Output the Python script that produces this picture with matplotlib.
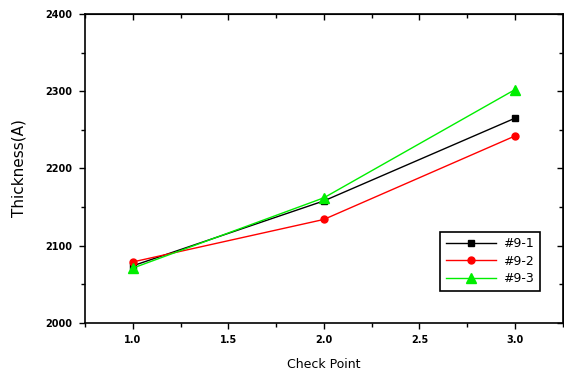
import matplotlib
matplotlib.use("Agg")
import matplotlib.pyplot as plt
from matplotlib.ticker import MultipleLocator

check_points = [1.0, 2.0, 3.0]
s91 = [2074, 2158, 2265]
s92 = [2079, 2134, 2242]
s93 = [2071, 2162, 2302]
labels = ["#9-1", "#9-2", "#9-3"]
xticks = [1.0, 1.5, 2.0, 2.5, 3.0]
xtick_labels = ["1.0", "1.5", "2.0", "2.5", "3.0"]
yticks = [2000, 2100, 2200, 2300, 2400]
ytick_labels = ["2000", "2100", "2200", "2300", "2400"]

fig = plt.figure(figsize=(5.64, 3.76), dpi=100)
ax = fig.add_axes([0.1507, 0.141, 0.847, 0.822])

ax.plot(check_points, s91, color="black", marker="s", ms=5, lw=1, label=labels[0])
ax.plot(check_points, s92, color="red", marker="o", ms=5, lw=1, label=labels[1])
ax.plot(check_points, s93, color="#00ee00", marker="^", ms=7, lw=1, label=labels[2])

ax.set_xlim(0.75, 3.25)
ax.set_ylim(2000, 2400)
ax.set_xticks(xticks, xtick_labels, fontweight="bold")
ax.set_yticks(yticks, ytick_labels, fontweight="bold")
ax.xaxis.set_minor_locator(MultipleLocator(0.25))
ax.yaxis.set_minor_locator(MultipleLocator(50))
ax.tick_params(which="major", direction="out", length=4, width=1, labelsize=7, pad=5)
ax.tick_params(which="minor", direction="out", length=3, width=1)
for sp in ax.spines.values():
    sp.set_linewidth(1.2)

top = ax.secondary_xaxis("top")
top.set_xticks(xticks)
top.xaxis.set_minor_locator(MultipleLocator(0.25))
top.tick_params(which="both", direction="in", labeltop=False, length=4, width=1)
top.tick_params(which="minor", length=3)
right = ax.secondary_yaxis("right")
right.set_yticks(yticks)
right.yaxis.set_minor_locator(MultipleLocator(50))
right.tick_params(which="both", direction="in", labelright=False, length=4, width=1)
right.tick_params(which="minor", length=3)

ax.set_xlabel("Check Point", fontsize=9, labelpad=9)
ax.set_ylabel("Thickness(A)", fontsize=11, labelpad=14)

leg = ax.legend(loc="lower right", bbox_to_anchor=(0.952, 0.104), fontsize=9,
                fancybox=False, edgecolor="black", framealpha=1, handlelength=4.0,
                borderpad=0.45, labelspacing=0.35, borderaxespad=0, handletextpad=0.6)
leg.get_frame().set_linewidth(1.2)

fig.savefig("out.png", dpi=100)
